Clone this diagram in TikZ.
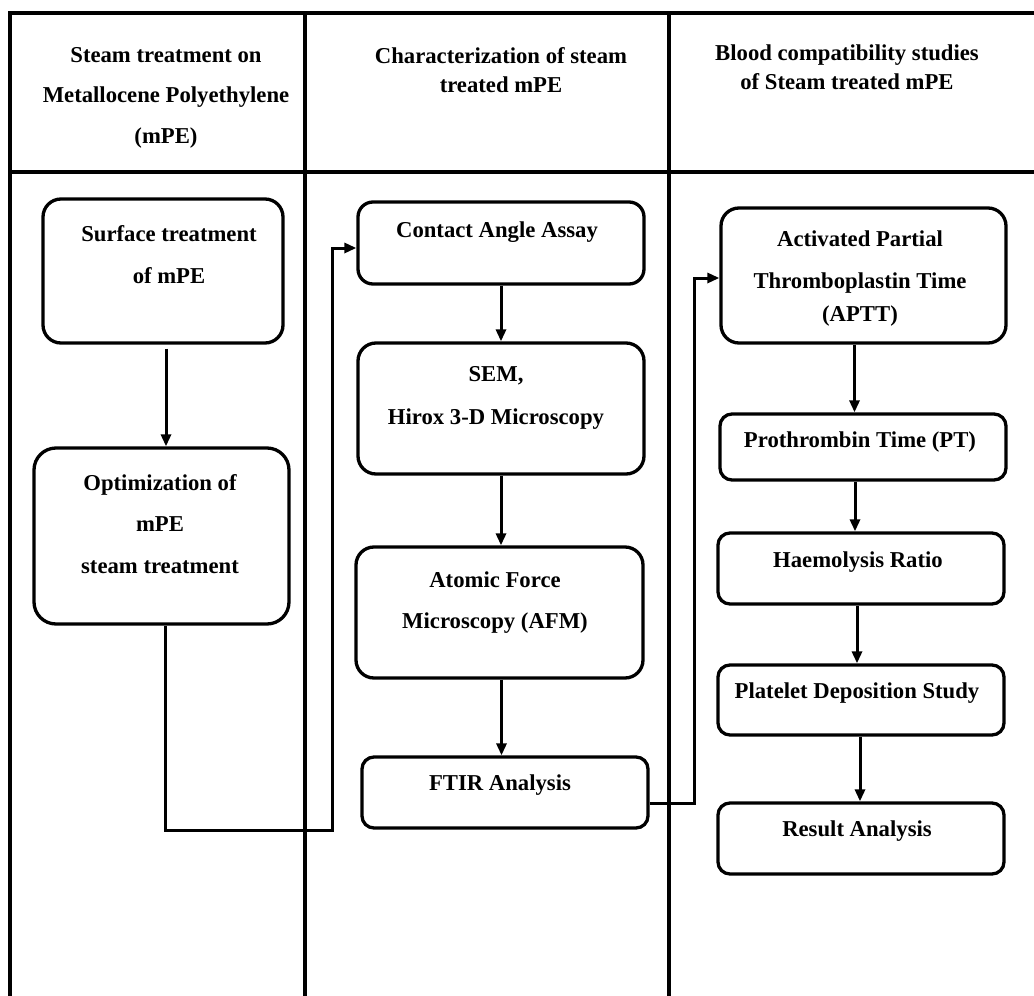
\documentclass[tikz,border=0pt]{standalone}
\usepackage{fontspec}
\setmainfont{Liberation Serif}
\usetikzlibrary{arrows.meta}
\begin{document}
\begin{tikzpicture}[x=1pt,y=-1pt,
  vline/.style={line width=3.2pt},
  hline/.style={line width=4pt},
  box/.style={draw, line width=3.3pt, rounded corners=18pt, inner sep=0pt},
  sbox/.style={box, rounded corners=12pt},
  txt/.style={anchor=base, inner sep=0pt, font=\fontsize{22.7}{27}\selectfont\bfseries},
  arr/.style={line width=3pt, -{Triangle[length=12pt,width=10pt]}}]
\useasboundingbox (0,0) rectangle (1034,996);
% frame
\coordinate (f1) at (8,13);   \coordinate (f2) at (1034,13);
\coordinate (f3) at (8,172);  \coordinate (f4) at (1034,172);
\coordinate (v1a) at (10,11); \coordinate (v1b) at (10,996);
\coordinate (v2a) at (305,11); \coordinate (v2b) at (305,996);
\coordinate (v3a) at (669,11); \coordinate (v3b) at (669,996);
\draw[hline] (f1) -- (f2);
\draw[hline] (f3) -- (f4);
\draw[vline] (v1a) -- (v1b);
\draw[vline] (v2a) -- (v2b);
\draw[vline] (v3a) -- (v3b);
% headers
\node[txt] (h1a) at (166,62) {Steam treatment on};
\node[txt] (h1b) at (166,102) {Metallocene Polyethylene};
\node[txt] (h1c) at (166,143) {(mPE)};
\node[txt] (h2a) at (501,63) {Characterization of steam};
\node[txt] (h2b) at (501,92) {treated mPE};
\node[txt] (h3a) at (847,60) {Blood compatibility studies};
\node[txt] (h3b) at (847,89) {of Steam treated mPE};
% column 1
\node[box, minimum width=240pt, minimum height=144pt] (B1) at (163,271) {};
\node[txt] (tB1a) at (169,241) {Surface treatment};
\node[txt] (tB1b) at (169,283) {of mPE};
\node[box, rounded corners=22pt, minimum width=255pt, minimum height=176pt] (B2) at (161.5,536) {};
\node[txt] (tB2a) at (160,490) {Optimization of};
\node[txt] (tB2b) at (160,531) {mPE};
\node[txt] (tB2c) at (160,573) {steam treatment};
% column 2
\node[box, rounded corners=15pt, minimum width=286pt, minimum height=82pt] (C1) at (501,243) {};
\node[txt] (tC1) at (497,237) {Contact Angle Assay};
\node[box, minimum width=286pt, minimum height=131pt] (C2) at (501,408.5) {};
\node[txt] (tC2a) at (496,381) {SEM,};
\node[txt] (tC2b) at (496,424) {Hirox 3-D Microscopy};
\node[box, minimum width=287pt, minimum height=131pt] (C3) at (499.5,612.5) {};
\node[txt] (tC3a) at (495,587) {Atomic Force};
\node[txt] (tC3b) at (495,628) {Microscopy (AFM)};
\node[sbox, minimum width=286pt, minimum height=71pt] (C4) at (505,792.5) {};
\node[txt] (tC4) at (500,790) {FTIR Analysis};
% column 3
\node[box, minimum width=285pt, minimum height=135pt] (D1) at (863.5,275.5) {};
\node[txt] (tD1a) at (860,246) {Activated Partial};
\node[txt] (tD1b) at (860,288) {Thromboplastin Time};
\node[txt] (tD1c) at (860,321) {(APTT)};
\node[sbox, minimum width=286pt, minimum height=66pt] (D2) at (863,447) {};
\node[txt] (tD2) at (860,447) {Prothrombin Time (PT)};
\node[sbox, minimum width=286pt, minimum height=71pt] (D3) at (861,568.5) {};
\node[txt] (tD3) at (858,567) {Haemolysis Ratio};
\node[sbox, minimum width=286pt, minimum height=70pt] (D4) at (861,700) {};
\node[txt] (tD4) at (857,698) {Platelet Deposition Study};
\node[sbox, minimum width=286pt, minimum height=71pt] (D5) at (861,838.5) {};
\node[txt] (tD5) at (857,836) {Result Analysis};
% arrows
\draw[arr] ([xshift=3pt,yshift=-4pt]B1.south) -- ([xshift=3pt]B1.south |- B2.north);
\draw[arr] (C1.south) -- (C1.south |- C2.north);
\draw[arr] (C2.south) -- (C2.south |- C3.north);
\draw[arr] ([xshift=2pt]C3.south) -- ([xshift=2pt]C3.south |- C4.north);
\draw[arr] ([xshift=-9pt]D1.south) -- ([xshift=-9pt]D1.south |- D2.north);
\draw[arr] ([xshift=-8pt]D2.south) -- ([xshift=-8pt]D2.south |- D3.north);
\draw[arr] ([xshift=-4pt]D3.south) -- ([xshift=-4pt]D3.south |- D4.north);
\draw[arr] ([xshift=-1pt]D4.south) -- ([xshift=-1pt]D4.south |- D5.north);
% long connectors
\coordinate (k1) at (332,830);
\draw[arr] ([xshift=3.5pt]B2.south) |- (k1) |- ([yshift=-5pt]C1.west);
\coordinate (k2) at (694,803);
\draw[arr] ([yshift=-10.5pt]C4.east) -- (k2) |- ([yshift=-2.5pt]D1.west);
\end{tikzpicture}
\end{document}
